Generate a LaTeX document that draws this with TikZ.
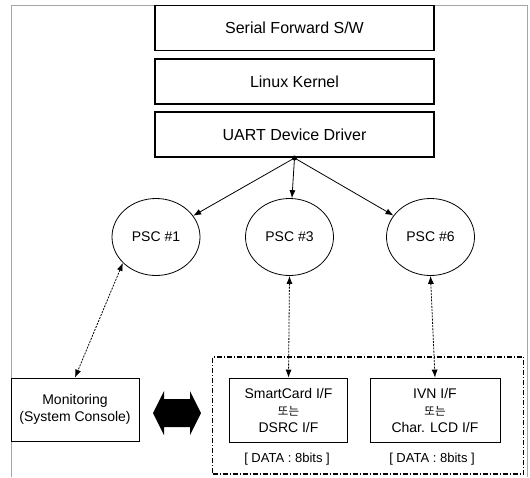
\documentclass[tikz,border=0pt]{standalone}
\usepackage{fontspec}
\setmainfont{Liberation Sans}
\newfontfamily\krfont{Noto Sans CJK KR}
\usetikzlibrary{arrows.meta,positioning,shapes.geometric}

\begin{document}
\begin{tikzpicture}[
    x=1pt, y=-1pt,
    font=\fontsize{14}{17}\selectfont,
    >={Latex[length=8pt,width=6pt]},
    layer/.style={draw, line width=1.8pt, minimum width=279pt, minimum height=45pt, font=\fontsize{16}{19}\selectfont},
    psc/.style={draw, ellipse, thick, minimum width=88pt, minimum height=77pt, inner sep=0pt},
    iface/.style={draw, thick, align=center, minimum width=118pt, minimum height=64pt},
    link/.style={<->, thick, dash pattern=on 2pt off 1.2pt},
    grp/.style={draw, line width=1.2pt, dash pattern=on 5pt off 2pt on 1pt off 2pt, minimum width=311pt, minimum height=117pt}
]
\useasboundingbox (0,0) rectangle (530,477);
\draw[gray!70, line width=0.8pt] (11,477) -- (11,5) -- (527,5) -- (527,477);

\node[layer] (sfw) at (294.5,28) {Serial Forward S/W};
\node[layer, below=6.5pt of sfw] (kern) {Linux Kernel};
\node[layer, below=6.5pt of kern] (uart) {UART Device Driver};
\coordinate (hub) at (uart.south);
\fill (hub) circle (2.5pt);

\node[psc] (psc1) at (156,237) {PSC \#1};
\node[psc] (psc3) at (289.5,237) {PSC \#3};
\node[psc] (psc6) at (430.5,237) {PSC \#6};
\draw[->, thick] (hub) -- (psc1);
\draw[->, thick] (hub) -- (psc3);
\draw[->, thick] (hub) -- (psc6);

\node[draw, thick, align=center, minimum width=128pt, minimum height=63pt] (mon) at (75,409.5) {Monitoring\\(System Console)};
\node[grp] (grp) at (368,415.5) {};
\node[iface] (sc) at (288.5,410) {SmartCard I/F\\{\krfont\fontsize{11.5}{17}\selectfont 또는}\\DSRC I/F};
\node[iface, minimum width=130pt] (ivn) at (435,410) {IVN I/F\\{\krfont\fontsize{11.5}{17}\selectfont 또는}\\Char. LCD I/F};
\node[font=\fontsize{13}{15}\selectfont] (dat1) at (287,459) {[ DATA : 8bits ]};
\node[font=\fontsize{13}{15}\selectfont] (dat2) at (432,459) {[ DATA : 8bits ]};

\draw[link] (psc1.218) -- (mon.north);
\draw[link] (psc3.south) -- (sc.north);
\draw[link] (psc6.south) -- (ivn.north);

\fill (153,413) -- (164,391) -- (164,399) -- (190,399) -- (190,391) -- (201,413)
    -- (190,435) -- (190,427) -- (164,427) -- (164,435) -- cycle;
\end{tikzpicture}
\end{document}
